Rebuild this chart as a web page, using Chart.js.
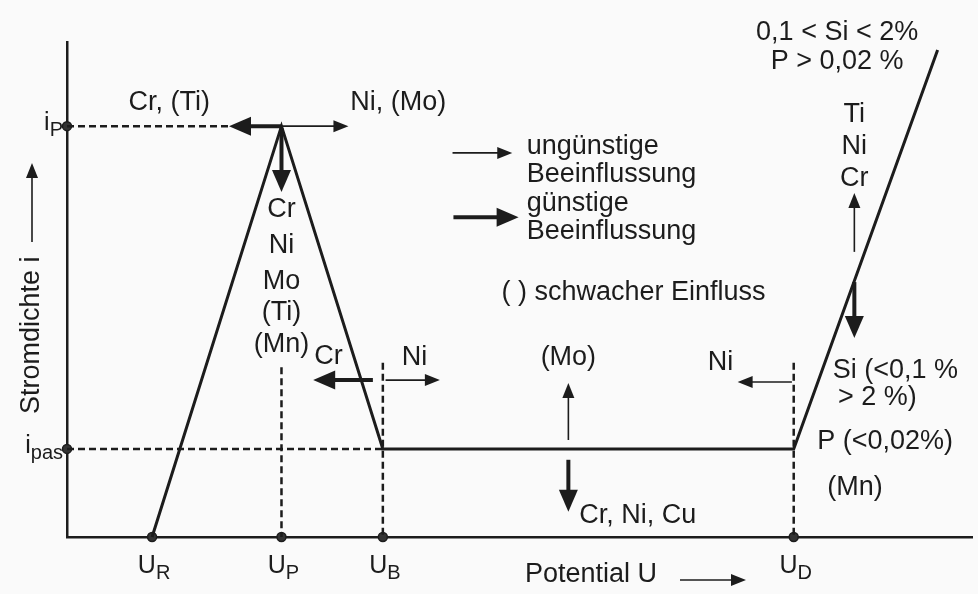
<!DOCTYPE html>
<html>
<head>
<meta charset="utf-8">
<script src="https://cdn.jsdelivr.net/npm/chart.js@4"></script>
<style>
html, body { margin: 0; padding: 0; background: #fafafa; }
canvas { display: block; }
</style>
</head>
<body>
<canvas id="chart" width="978" height="594"></canvas>
<script>
// current density curve, schematic units (potential U, current density i)
var curveU = [0.94, 2.37, 3.49, 8.03, 9.62];
var curveI = [0, 8.30, 1.78, 1.78, 9.84];

// marked potentials on the x axis
var uTicks = [0.94, 2.37, 3.49, 8.03];
var uSubs = ['R', 'P', 'B', 'D'];
// marked current densities on the y axis
var iTicks = [8.30, 1.78];
var iSubs = ['P', 'pas'];

// where the dashed helper lines end
var iGuideEnd = [1.79, 3.49];
var uGuideTop = [null, 3.43, 3.52, 3.52];

// influence labels: text, U, i, align
var notes = [
    ['Cr, (Ti)', 1.13, 8.77, 'center'],
    ['Ni, (Mo)', 3.66, 8.77, 'center'],
    ['Cr', 2.37, 6.61, 'center'],
    ['Ni', 2.37, 5.88, 'center'],
    ['Mo', 2.37, 5.17, 'center'],
    ['(Ti)', 2.37, 4.53, 'center'],
    ['(Mn)', 2.37, 3.88, 'center'],
    ['Cr', 2.89, 3.64, 'center'],
    ['Ni', 3.84, 3.62, 'center'],
    ['ungünstige', 5.08, 7.88, 'left'],
    ['Beeinflussung', 5.08, 7.33, 'left'],
    ['günstige', 5.08, 6.73, 'left'],
    ['Beeinflussung', 5.08, 6.18, 'left'],
    ['( ) schwacher Einfluss', 4.80, 4.93, 'left'],
    ['(Mo)', 5.54, 3.62, 'center'],
    ['Cr, Ni, Cu', 5.66, 0.44, 'left'],
    ['Ni', 7.22, 3.52, 'center'],
    ['0,1 < Si < 2%', 8.51, 10.2, 'center'],
    ['P > 0,02 %', 8.51, 9.60, 'center'],
    ['Ti', 8.70, 8.53, 'center'],
    ['Ni', 8.70, 7.88, 'center'],
    ['Cr', 8.70, 7.25, 'center'],
    ['Si (<0,1 %', 8.46, 3.37, 'left'],
    ['> 2 %)', 8.52, 2.81, 'left'],
    ['P (<0,02%)', 8.29, 1.92, 'left'],
    ['(Mn)', 8.40, 0.99, 'left']
];

// arrows: from U, from i, to U, to i, thick (günstig) or thin (ungünstig)
var arrows = [
    [2.37, 8.30, 1.79, 8.30, 1],
    [2.37, 8.30, 3.11, 8.30, 0],
    [2.37, 8.26, 2.37, 6.97, 1],
    [3.38, 3.17, 2.72, 3.17, 1],
    [3.52, 3.17, 4.12, 3.17, 0],
    [4.26, 7.76, 4.92, 7.76, 0],
    [4.27, 6.46, 4.99, 6.46, 1],
    [5.54, 1.96, 5.54, 3.11, 0],
    [5.54, 1.56, 5.54, 0.51, 1],
    [8.01, 3.13, 7.41, 3.13, 0],
    [8.70, 5.76, 8.70, 6.95, 0],
    [8.70, 5.15, 8.70, 4.02, 1]
];

var FONT = '"Liberation Sans", Arial, sans-serif';
var INK = '#1c1c1c';

var curve = curveU.map(function (u, k) { return { x: u, y: curveI[k] }; });

var guides = [];
iTicks.forEach(function (v, k) {
    guides.push([{ x: 0, y: v }, { x: iGuideEnd[k], y: v }]);
});
uTicks.forEach(function (v, k) {
    if (uGuideTop[k] !== null) guides.push([{ x: v, y: uGuideTop[k] }, { x: v, y: 0 }]);
});

var dots = uTicks.map(function (v) { return { x: v, y: 0 }; })
    .concat(iTicks.map(function (v) { return { x: 0, y: v }; }));

var datasets = [{
    data: curve,
    showLine: true,
    borderColor: INK,
    borderWidth: 3,
    pointRadius: 0,
    clip: false
}];
guides.forEach(function (g) {
    datasets.push({
        data: g,
        showLine: true,
        borderColor: INK,
        borderWidth: 2.5,
        borderDash: [7, 4],
        pointRadius: 0,
        clip: false
    });
});
datasets.push({
    data: dots,
    pointRadius: 4.5,
    pointBackgroundColor: '#333',
    pointBorderColor: INK,
    pointBorderWidth: 1.5,
    clip: false
});

function drawArrow(ctx, x1, y1, x2, y2, thick) {
    var len = Math.hypot(x2 - x1, y2 - y1);
    var ux = (x2 - x1) / len, uy = (y2 - y1) / len;
    var hl = thick ? 22 : 15, hw = thick ? 9.5 : 6;
    var bx = x2 - ux * hl, by = y2 - uy * hl;
    ctx.lineWidth = thick ? 4 : 1.6;
    ctx.beginPath();
    ctx.moveTo(x1, y1);
    ctx.lineTo(bx + ux * 2, by + uy * 2);
    ctx.stroke();
    ctx.beginPath();
    ctx.moveTo(x2, y2);
    ctx.lineTo(bx - uy * hw, by + ux * hw);
    ctx.lineTo(bx + uy * hw, by - ux * hw);
    ctx.closePath();
    ctx.fill();
}

function subLabel(ctx, main, sub, x, y, align, size) {
    ctx.font = size + 'px ' + FONT;
    var w1 = ctx.measureText(main).width;
    ctx.font = Math.round(size * 0.78) + 'px ' + FONT;
    var w2 = ctx.measureText(sub).width;
    var left = align === 'right' ? x - w1 - w2 : x - (w1 + w2) / 2;
    ctx.textAlign = 'left';
    ctx.textBaseline = 'alphabetic';
    ctx.font = size + 'px ' + FONT;
    ctx.fillText(main, left, y);
    ctx.font = Math.round(size * 0.78) + 'px ' + FONT;
    ctx.fillText(sub, left + w1, y + 6);
}

var sketch = {
    id: 'sketch',
    beforeDraw: function (chart) {
        var ctx = chart.ctx;
        ctx.save();
        ctx.fillStyle = '#fafafa';
        ctx.fillRect(0, 0, chart.width, chart.height);
        ctx.restore();
    },
    afterDraw: function (chart) {
        var ctx = chart.ctx, sx = chart.scales.x, sy = chart.scales.y;
        var area = chart.chartArea;
        ctx.save();
        ctx.fillStyle = INK;
        ctx.strokeStyle = INK;

        arrows.forEach(function (a) {
            drawArrow(ctx, sx.getPixelForValue(a[0]), sy.getPixelForValue(a[1]),
                sx.getPixelForValue(a[2]), sy.getPixelForValue(a[3]), a[4]);
        });

        ctx.font = '27px ' + FONT;
        ctx.textBaseline = 'middle';
        notes.forEach(function (n) {
            ctx.textAlign = n[3];
            ctx.fillText(n[0], sx.getPixelForValue(n[1]), sy.getPixelForValue(n[2]));
        });

        // tick labels with subscripts
        uTicks.forEach(function (v, k) {
            subLabel(ctx, 'U', uSubs[k], sx.getPixelForValue(v) + 2, area.bottom + 36, 'center', 25);
        });
        iTicks.forEach(function (v, k) {
            subLabel(ctx, 'i', iSubs[k], area.left - 4, sy.getPixelForValue(v) + 4, 'right', 25);
        });

        // axis titles
        ctx.font = '27px ' + FONT;
        ctx.textAlign = 'left';
        ctx.textBaseline = 'middle';
        ctx.fillText('Potential U', 525, area.bottom + 38);
        drawArrow(ctx, 680, area.bottom + 43, 746, area.bottom + 43, 0);

        ctx.save();
        ctx.translate(32, 414);
        ctx.rotate(-Math.PI / 2);
        ctx.textAlign = 'left';
        ctx.fillText('Stromdichte i', 0, 0);
        ctx.restore();
        drawArrow(ctx, 32, 242, 32, 163, 0);
        ctx.restore();
    }
};

new Chart(document.getElementById('chart'), {
    type: 'scatter',
    data: { datasets: datasets },
    plugins: [sketch],
    options: {
        responsive: false,
        animation: false,
        layout: { padding: { left: 67, right: 0, top: 42, bottom: 57 } },
        plugins: { legend: { display: false }, tooltip: { enabled: false } },
        scales: {
            x: {
                type: 'linear', min: 0, max: 10,
                grid: { display: false },
                ticks: { display: false },
                border: { color: INK, width: 2.5 },
                afterFit: function (s) { s.height = 0; }
            },
            y: {
                type: 'linear', min: 0, max: 10,
                grid: { display: false },
                ticks: { display: false },
                border: { color: INK, width: 2.5 },
                afterFit: function (s) { s.width = 0; }
            }
        }
    }
});
</script>
</body>
</html>
